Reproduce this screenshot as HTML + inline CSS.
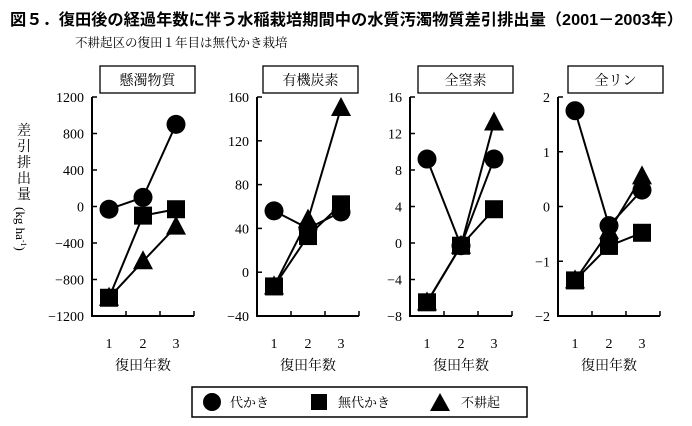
<!DOCTYPE html>
<html><head><meta charset="utf-8"><style>
body{margin:0;background:#fff;}
svg{display:block;font-family:"Liberation Serif","Noto Serif CJK SC",serif;}
</style></head><body>
<svg id="s" width="692" height="426" viewBox="0 0 692 426" xmlns="http://www.w3.org/2000/svg">
<text x="10" y="25" font-size="16" font-weight="bold" textLength="673" lengthAdjust="spacingAndGlyphs" font-family="Liberation Sans,Noto Sans CJK JP,sans-serif">図５．復田後の経過年数に伴う水稲栽培期間中の水質汚濁物質差引排出量（2001－2003年）</text>
<text x="75" y="47" font-size="12.5" font-family="Liberation Serif,Noto Serif CJK JP,serif">不耕起区の復田１年目は無代かき栽培</text>
<g font-size="14" font-family="Liberation Serif,Noto Serif CJK JP,serif" text-anchor="middle">
<text x="24" y="135">差</text><text x="24" y="151">引</text><text x="24" y="167">排</text><text x="24" y="183">出</text><text x="24" y="199">量</text>
</g>
<text transform="translate(16,207) rotate(90)" font-size="13">(kg ha<tspan font-size="8" dy="-5">-1</tspan><tspan dy="5">)</tspan></text>
<g id="g"></g>
<rect x="192" y="387" width="335" height="30" fill="#fff" stroke="#000" stroke-width="1.5"/>
<circle cx="212" cy="402" r="9"/><text x="230" y="407" font-size="13" font-family="Liberation Serif,Noto Serif CJK JP,serif">代かき</text>
<rect x="311" y="394" width="16" height="16"/><text x="338" y="407" font-size="13" font-family="Liberation Serif,Noto Serif CJK JP,serif">無代かき</text>
<polygon points="440,393 450,411 430,411"/><text x="461" y="407" font-size="13" font-family="Liberation Serif,Noto Serif CJK JP,serif">不耕起</text>
</svg>
<script>
var P=[
{ax:92,title:"懸濁物質",bx:100,min:-1200,max:1200,step:400,c:[-30,100,900],s:[-1000,-100,-30],t:[-1000,-600,-220]},
{ax:257,title:"有機炭素",bx:263,min:-40,max:160,step:40,c:[56,40,55],s:[-13,33,62],t:[-13,48,150]},
{ax:410,title:"全窒素",bx:418,min:-8,max:16,step:4,c:[9.2,-0.3,9.2],s:[-6.5,-0.3,3.7],t:[-6.5,-0.3,13.2]},
{ax:558,title:"全リン",bx:568,min:-2,max:2,step:1,c:[1.75,-0.35,0.3],s:[-1.35,-0.72,-0.48],t:[-1.35,-0.45,0.55]}];
var h='',T=97,B=316;
P.forEach(function(p){
 var a=p.ax;function Y(v){return B-(v-p.min)/(p.max-p.min)*(B-T);}
 var xs=[a+17,a+51,a+84];
 h+='<rect x="'+p.bx+'" y="66" width="95" height="27" fill="#fff" stroke="#000" stroke-width="1.3"/>';
 h+='<text x="'+(p.bx+47.5)+'" y="85" font-size="14" text-anchor="middle" font-family="Liberation Serif,Noto Serif CJK JP,serif">'+p.title+'</text>';
 h+='<path d="M'+a+' '+T+'V'+B+'H'+(a+102)+'" fill="none" stroke="#000" stroke-width="2"/>';
 for(var i=1;i<=3;i++){var tx=a+34*i;h+='<line x1="'+tx+'" y1="'+B+'" x2="'+tx+'" y2="'+(B-5)+'" stroke="#000" stroke-width="1.5"/>';}
 for(var v=p.min;v<=p.max+1e-9;v+=p.step){var y=Y(v);h+='<line x1="'+a+'" y1="'+y+'" x2="'+(a+5)+'" y2="'+y+'" stroke="#000" stroke-width="1.5"/>';
  h+='<text x="'+(a-8)+'" y="'+(y+5)+'" font-size="14" text-anchor="end">'+(v<0?'−'+(-v):v)+'</text>';}
 [1,2,3].forEach(function(n,i){h+='<text x="'+xs[i]+'" y="348" font-size="14" text-anchor="middle">'+n+'</text>';});
 h+='<text x="'+(a+51)+'" y="370" font-size="14" text-anchor="middle" font-family="Liberation Serif,Noto Serif CJK JP,serif">復田年数</text>';
 ['t','s','c'].forEach(function(k){var d='';for(var i=0;i<3;i++)d+=(i?'L':'M')+xs[i]+' '+Y(p[k][i]);h+='<path d="'+d+'" fill="none" stroke="#000" stroke-width="2"/>';});
 for(var i=0;i<3;i++){var x=xs[i];
  var y=Y(p.t[i]);h+='<polygon points="'+x+','+(y-11)+' '+(x+10)+','+(y+8)+' '+(x-10)+','+(y+8)+'"/>';
  y=Y(p.s[i]);h+='<rect x="'+(x-9)+'" y="'+(y-9)+'" width="18" height="18"/>';
  y=Y(p.c[i]);h+='<circle cx="'+x+'" cy="'+y+'" r="9.5"/>';}
});
document.getElementById('g').innerHTML=h;
</script>
</body></html>
